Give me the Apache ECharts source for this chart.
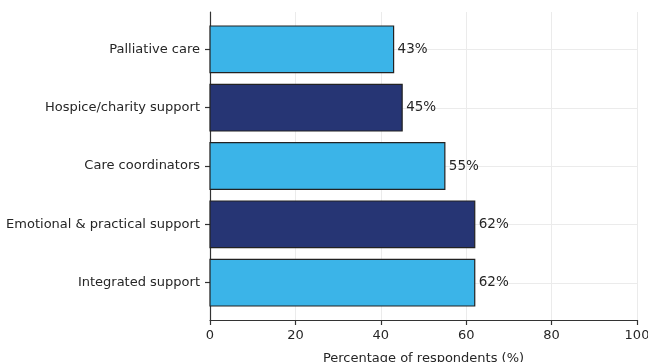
<!DOCTYPE html>
<html>
<head>
<meta charset="utf-8">
<script src="https://cdn.jsdelivr.net/npm/echarts@6/dist/echarts.min.js"></script>
<style>
  html, body { margin: 0; padding: 0; background: #fff; }
  #chart { width: 648px; height: 362px; }
</style>
</head>
<body>
<div id="chart"></div>
<script>
// Support types, listed bottom to top
const categories = [
  'Integrated support',
  'Emotional & practical support',
  'Care coordinators',
  'Hospice/charity support',
  'Palliative care'
];
const percentages = [62, 62, 55, 45, 43];
const barColors = ['#3bb4e8', '#263574', '#3bb4e8', '#263574', '#3bb4e8'];

const positions = categories.map((_, i) => i);
const FONT = 'DejaVu Sans, sans-serif';
const TEXT = '#262626';

const chart = echarts.init(document.getElementById('chart'), null, { renderer: 'canvas' });

chart.setOption({
  animation: false,
  backgroundColor: '#ffffff',
  grid: { left: 210, right: 11, top: 12, bottom: 42, containLabel: false, outerBoundsMode: 'none' },
  xAxis: {
    type: 'value',
    min: 0,
    max: 100,
    interval: 20,
    name: 'Percentage of respondents (%)',
    nameLocation: 'middle',
    nameGap: 32,
    nameTextStyle: { fontFamily: FONT, fontSize: 13, color: TEXT },
    axisLine: { show: true, onZero: false, lineStyle: { color: '#333', width: 1.2 } },
    axisTick: { show: true, length: 5, lineStyle: { color: '#333', width: 1.2 } },
    axisLabel: { fontFamily: FONT, fontSize: 13, color: TEXT, margin: 9 },
    splitLine: { show: true, lineStyle: { color: '#ebebeb', width: 1 } }
  },
  yAxis: {
    type: 'value',
    min: -0.64,
    max: categories.length - 1 + 0.64,
    axisLine: { show: true, onZero: false, lineStyle: { color: '#333', width: 1.2 } },
    axisTick: { show: true, length: 5, customValues: positions, lineStyle: { color: '#333', width: 1.2 } },
    axisLabel: {
      customValues: positions,
      formatter: v => categories[Math.round(v)],
      fontFamily: FONT, fontSize: 13, color: TEXT, margin: 10
    },
    splitLine: { show: false }
  },
  series: [
    {
      // horizontal gridlines through each category
      type: 'custom',
      silent: true,
      z: 1,
      data: positions.map(p => [p]),
      encode: { y: 0 },
      renderItem: (params, api) => {
        const y = api.value(0);
        const a = api.coord([0, y]);
        const b = api.coord([100, y]);
        return {
          type: 'line',
          shape: { x1: a[0], y1: Math.round(a[1]) + 0.5, x2: b[0], y2: Math.round(b[1]) + 0.5 },
          style: { stroke: '#ebebeb', lineWidth: 1 }
        };
      }
    },
    {
      type: 'custom',
      z: 3,
      data: percentages.map((v, i) => [v, i]),
      encode: { x: 0, y: 1 },
      renderItem: (params, api) => {
        const v = api.value(0);
        const i = api.value(1);
        const start = api.coord([0, i]);
        const end = api.coord([v, i]);
        const h = api.size([0, 0.8])[1];
        return {
          type: 'group',
          children: [
            {
              type: 'rect',
              shape: { x: start[0], y: start[1] - h / 2, width: end[0] - start[0], height: h },
              style: { fill: barColors[i], stroke: '#222', lineWidth: 1.2 }
            },
            {
              type: 'text',
              x: end[0] + 4,
              y: end[1],
              style: {
                text: v + '%',
                fontFamily: FONT,
                fontSize: 13.5,
                fill: TEXT,
                verticalAlign: 'middle',
                align: 'left'
              }
            }
          ]
        };
      }
    }
  ]
});
</script>
</body>
</html>
